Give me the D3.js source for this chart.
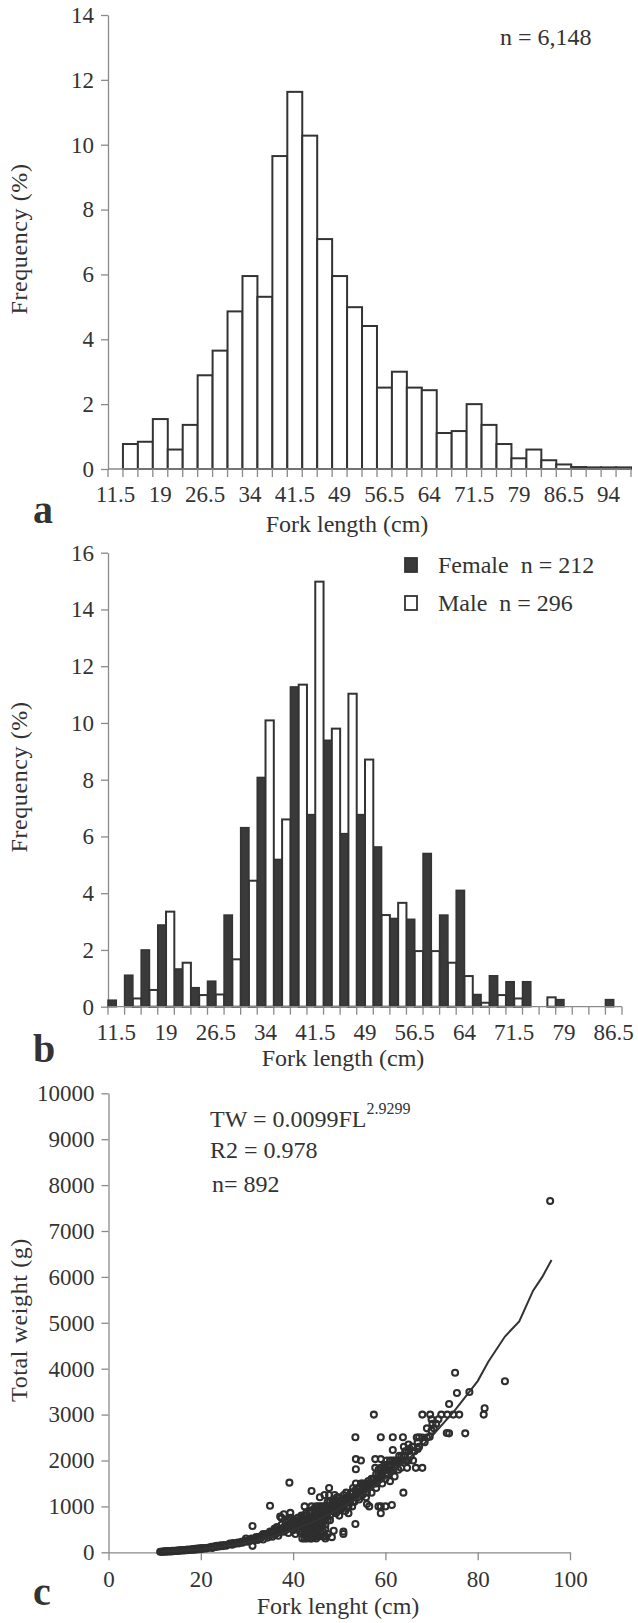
<!doctype html>
<html lang="en">
<head>
<meta charset="utf-8">
<title>Fork length frequency and length-weight</title>
<script src="https://d3js.org/d3.v7.min.js"></script>
<style>
  body { margin: 0; background: #fff; }
  svg text { font-family: 'Liberation Serif', 'Times New Roman', serif; fill: #333; }
  .axis path, .axis line { stroke: #8a8a8a; stroke-width: 1.3; }
</style>
</head>
<body>
<div id="chart"></div>
<script>
// ---- panel a : all fish, frequency by fork length class
var lengthsA = ["11.5","14","16.5","19","21.5","24","26.5","29","31.5","34","36.5","39","41.5","44","46.5","49","51.5","54","56.5","59","61.5","64","66.5","69","71.5","74","76.5","79","81.5","84","86.5","89","91.5","94","96.5"];
var freqA = [0,0.77,0.84,1.54,0.6,1.36,2.89,3.65,4.86,5.95,5.31,9.65,11.63,10.28,7.09,5.95,4.99,4.41,2.51,3.0,2.51,2.43,1.11,1.17,2.0,1.36,0.77,0.33,0.6,0.27,0.14,0.06,0.05,0.05,0.05];
var yTicksA = [0,2,4,6,8,10,12,14];

// ---- panel b : females and males
var lengthsB = ["11.5","14","16.5","19","21.5","24","26.5","29","31.5","34","36.5","39","41.5","44","46.5","49","51.5","54","56.5","59","61.5","64","66.5","69","71.5","74","76.5","79","81.5","84","86.5"];
var femaleB = [0.23,1.11,2.0,2.88,1.33,0.67,0.9,3.23,6.31,8.08,5.19,11.27,6.77,9.39,6.1,6.77,5.63,3.11,3.08,5.4,3.23,4.1,0.43,1.09,0.88,0.88,0,0.25,0,0,0.25];
var maleB = [0,0.29,0.59,3.35,1.55,0.41,0.43,1.67,4.44,10.09,6.6,11.35,14.98,9.8,11.03,8.71,3.23,3.66,1.96,1.96,1.55,1.08,0.14,0.41,0.29,0,0.33,0,0,0,0];
var yTicksB = [0,2,4,6,8,10,12,14,16];

// ---- panel c : fork length (cm) vs total weight (g)
var fishPts = [
  [11.2,12],[11.5,10],[11.8,18],[12,14],[12.3,22],[12.5,15],[12.8,25],[13,18],[13.3,28],[13.5,20],[13.8,30],[14,24],
  [14.3,35],[14.5,28],[14.8,40],[15,30],[15.3,45],[15.5,35],[15.8,50],[16,38],[16.3,48],[16.5,42],[16.8,55],[17,45],
  [17.3,60],[17.5,50],[17.8,62],[18,55],[18.3,70],[18.5,58],[18.8,75],[19,62],[19.3,80],[19.5,68],[19.8,85],[20,72],
  [20.3,90],[20.5,78],[21,95],[21.2,82],[21.5,100],[22,105],[22.3,120],[22.5,95],[23,130],[23.3,115],[23.5,140],[24,125],
  [24.3,150],[24.8,135],[25,160],[25.5,145],[26,170],[26.3,190],[26.8,165],[27,200],[27.5,185],[28,215],[28.3,195],[28.8,230],
  [29,210],[29.5,250],[30,230],[29.8,300],[30.3,260],[30.5,240],[31,280],[31.2,573],[31.2,140],[31.5,260],[32,300],[32.3,270],
  [32.5,330],[33,310],[33.3,360],[33.5,280],[34,350],[34.3,390],[34.5,320],[35,1015],[35,370],[35.2,420],[35.5,340],[35.8,450],
  [36,520],[36,380],[36.3,410],[36.5,470],[36.8,360],[37,430],[37.2,780],[37.5,750],[37.5,480],[37.8,520],[38,450],[38,830],
  [38.3,560],[38.5,490],[38.8,600],[39,420],[39.2,1517],[39.4,860],[39.5,550],[39.8,640],[40,480],[40,700],
  [40.3,560],[40.5,400],[40.8,620],[41,500],[41,750],[41.3,680],[41.5,450],[41.5,580],[41.8,800],[42,300],[42,520],[42,650],
  [42.3,720],[42.5,400],[42.5,600],[42.5,1000],[42.8,850],[43,350],[43,550],[43,700],[43.3,620],[43.5,450],[43.5,780],[43.5,900],
  [43.8,300],[43.8,680],[44,1335],[44,500],[44,850],[44,1000],[44.3,600],[44.3,750],[44.5,400],[44.5,950],[44.8,700],[44.8,550],
  [45,300],[45,820],[45,1000],[45.3,650],[45.5,750],[45.5,500],[45.5,900],[45.8,1200],[45.8,600],[46,350],[46,800],[46,1000],
  [46.3,700],[46.3,900],[46.5,450],[46.5,1000],[46.8,1250],[46.8,800],[47,600],[47,1000],[47,350],[47.3,900],[47.5,1100],[47.5,700],
  [47.8,1250],[47.8,1400],[48,800],[48,1000],[48.4,330],[48.3,950],[48.5,1100],[48.8,470],[48.8,900],[49,1250],[49,1050],[49.3,850],
  [49.5,1000],[49.5,1200],[49.8,950],[50,1100],[50,800],
  [50.3,1000],[50.5,1150],[50.9,450],[50.9,400],[51,1050],[51,1250],[51.3,900],[51.5,1100],[51.5,1300],[51.8,1000],[52,1200],[52,850],
  [52.3,1100],[52.5,1300],[52.8,1000],[53,1200],[53,1400],[53.5,617],[53.5,2505],[53.6,2030],[53.6,1810],[53.6,1500],[53.3,1100],[53.8,1250],
  [54,1300],[54.3,1150],[54.7,2000],[54.7,1500],[54.5,1400],[55,1250],[55,1450],[55.3,1350],[55.5,1500],[55.8,1200],[56,1400],[56,1050],
  [56.5,1000],[56.3,1550],[56.8,1450],[57,1300],[57,1600],[57.5,3000],[57.5,1500],[57.8,2030],[57.8,1840],[58,1700],[58,1400],[58.3,1550],
  [58.5,1800],[58.5,1000],[58.8,1650],[59,2505],[59,2030],[59,1840],[59,1000],[59,850],[59.3,1500],[59.5,1750],[59.8,1900],[60,1000],
  [60,1600],[60,1840],[60.3,2000],[60.5,1700],[60.8,1850],[61,2000],[61,1550],[61.4,1030],[61.6,2505],[61.6,2229],[61.6,1800],[62,2000],
  [62,1650],[62.3,1900],[62.5,2000],[62.8,1800],[63,2000],[63.4,1840],[63.8,2505],[63.9,1300],[63.5,2100],[64,2000],[64,2300],[64.3,2200],
  [64.7,1840],[64.5,2000],[65,2350],[65,2000],[65.3,2250],[65.5,2100],[65.8,2300],[66,2000],[66.3,2200],[66.6,1840],[66.8,2500],[67,2250],
  [67.3,2505],[67.3,2300],[68,1840],[68,3000],[68.5,2400],[69,2500],[69.6,2519],[69.7,3000],[70,2900],[70.2,2800],[70.5,2700],[70,2650],
  [71,2800],[71.5,2900],[72.1,3000],[73.4,3000],[73.8,3231],[73.8,2592],[73.3,2600],[74.7,3000],[75.1,3913],[75.5,3470],[76,3000],[77.3,2592],
  [78.2,3492],[81.3,3000],[81.5,3137],[85.9,3725],[95.7,7653],
  // dense core of the cloud
  [30,250],[31,300],[32,330],[33,350],[33.5,400],[34,400],[35,450],[36,480],[36.5,550],[37,500],[37.5,600],[38,550],[38.5,650],[39,600],
  [39,700],[39.5,750],[40,600],[40.5,700],[40.5,550],[41,620],[41.5,700],[42,750],[42,450],[42.5,800],[42.5,700],[42.5,300],[43,800],
  [43,600],[43,450],[43,300],[43.5,650],[43.5,550],[44,700],[44,400],[44,900],[44,300],[44.5,800],[44.5,650],[44.5,500],[44.5,330],
  [45,700],[45,900],[45,550],[45,400],[45,350],[45.5,800],[45.5,650],[45.5,1000],[45.5,350],[46,900],[46,700],[46,550],[46,450],
  [46.5,800],[46.5,900],[46.5,650],[46.5,350],[47,800],[47,900],[47,700],[47,500],[47,300],[47.5,850],[47.5,1000],[47.5,900],[47.5,400],
  [48,900],[48,1100],[48,700],[48.5,1000],[48.5,950],[49,900],[49,1000],[49,1150],[49.5,1100],[49.5,900],[50,950],[50,1000],[50,1200],
  [50.5,1050],[50.5,950],[51,1150],[51,1000],[51.5,1200],[52,1100],[52,1000],[52.5,1150],[52.5,1200],[53,1100],[53,1300],[53.5,1250],
  [53.5,1350],[54,1200],[54,1400],[54.5,1300],[55,1350],[55,1500],[55.5,1400],[56,1500],[56,1300],[56.5,1450],[57,1500],[57.5,1600],
  [58,1500],[58,1600],[58.5,1700],[59,1700],[59,1600],[59.5,1800],[60,1700],[60,1900],[60.5,1800],[61,1800],[61,1900],[61.5,2000],
  [62,1850],[62.5,1950],[63,2100],[63.5,2000],[64,2100],[64.5,2200],[65,2200],[66,2300],[67,2400],[68,2500],[69,2700]
];
var fitFL = [11.5,15,20,25,30,35,40,45,50,55,60,65,70,75,80,82.3,85.9,89,92,94,96];
var fitTW = [13,28,64,123,211,331,489,691,941,1243,1606,2031,2524,3088,3730,4150,4700,5030,5700,6000,6370];
var xTicksC = [0,20,40,60,80,100];
var yTicksC = [0,1000,2000,3000,4000,5000,6000,7000,8000,9000,10000];

var W = 638, H = 1623;
var svg = d3.select('#chart').append('svg')
    .attr('width', W).attr('height', H)
    .style('background', '#fff');

var tickFont = 23, titleFont = 24;

function styleAxis(g) {
  g.attr('class', 'axis');
  g.selectAll('text').style('font-size', tickFont + 'px').style('font-family', "'Liberation Serif', serif").attr('fill', '#333');
}

// category x axis: tick at every class boundary, label every 3rd class
function bandAxis(g, x, y0, labels) {
  var step = x.step(), r = x.range();
  var bounds = d3.range(labels.length + 1).map(function(i) { return r[0] + i * step; });
  g.append('line').attr('x1', r[0]).attr('x2', r[1]).attr('y1', y0).attr('y2', y0)
    .attr('stroke', '#8a8a8a').attr('stroke-width', 1.3);
  g.selectAll('line.tk').data(bounds).enter().append('line').attr('class', 'tk')
    .attr('x1', function(d) { return d; }).attr('x2', function(d) { return d; })
    .attr('y1', y0).attr('y2', y0 + 8)
    .attr('stroke', '#8a8a8a').attr('stroke-width', 1.3);
  g.selectAll('text.lb').data(labels.filter(function(d, i) { return i % 3 === 0; }))
    .enter().append('text').attr('class', 'lb')
    .attr('x', function(d) { return x(d) + step / 2; })
    .attr('y', y0 + 33)
    .attr('text-anchor', 'middle')
    .style('font-size', tickFont + 'px')
    .text(function(d) { return d; });
}

function yTitle(txt, cy) {
  svg.append('text')
    .attr('transform', 'translate(27,' + cy + ') rotate(-90)')
    .attr('text-anchor', 'middle')
    .style('font-size', titleFont + 'px')
    .style('letter-spacing', '0.6px')
    .text(txt);
}

function panelLetter(txt, y) {
  svg.append('text').attr('x', 33).attr('y', y)
    .style('font-size', '40px').style('font-weight', 'bold')
    .text(txt);
}

// ================= panel a
var xA = d3.scaleBand().domain(lengthsA).range([108, 631]).padding(0);
var yA = d3.scaleLinear().domain([0, 14]).range([469, 15]);

svg.append('g').attr('transform', 'translate(108,0)')
  .call(d3.axisLeft(yA).tickValues(yTicksA).tickSize(7).tickSizeOuter(0).tickPadding(7).tickFormat(d3.format('d')))
  .call(styleAxis);

var barsA = freqA.map(function(v, i) { return {len: lengthsA[i], v: v}; })
  .filter(function(d) { return d.v > 0; });
svg.append('g').selectAll('rect').data(barsA).enter().append('rect')
  .attr('x', function(d) { return xA(d.len); })
  .attr('y', function(d) { return yA(d.v); })
  .attr('width', xA.bandwidth())
  .attr('height', function(d) { return yA(0) - yA(d.v); })
  .attr('fill', '#fff')
  .attr('stroke', '#333')
  .attr('stroke-width', 2);

bandAxis(svg.append('g'), xA, 469, lengthsA);

svg.append('text').attr('x', 500).attr('y', 45).style('font-size', '24px').text('n = 6,148');
svg.append('text').attr('x', 347).attr('y', 532).attr('text-anchor', 'middle')
  .style('font-size', titleFont + 'px').text('Fork length (cm)');
yTitle('Frequency (%)', 239);
panelLetter('a', 523);

// ================= panel b
var xB = d3.scaleBand().domain(lengthsB).range([108, 622]).padding(0);
var yB = d3.scaleLinear().domain([0, 16]).range([1006.7, 552.7]);
var half = xB.bandwidth() / 2;

svg.append('g').attr('transform', 'translate(108,0)')
  .call(d3.axisLeft(yB).tickValues(yTicksB).tickSize(7).tickSizeOuter(0).tickPadding(7).tickFormat(d3.format('d')))
  .call(styleAxis);

var femBars = femaleB.map(function(v, i) { return {len: lengthsB[i], v: v}; })
  .filter(function(d) { return d.v > 0; });
var maleBars = maleB.map(function(v, i) { return {len: lengthsB[i], v: v}; })
  .filter(function(d) { return d.v > 0; });

svg.append('g').selectAll('rect').data(femBars).enter().append('rect')
  .attr('x', function(d) { return xB(d.len); })
  .attr('y', function(d) { return yB(d.v); })
  .attr('width', half)
  .attr('height', function(d) { return yB(0) - yB(d.v); })
  .attr('fill', '#3a3a3a')
  .attr('stroke', '#333').attr('stroke-width', 1.5);

svg.append('g').selectAll('rect').data(maleBars).enter().append('rect')
  .attr('x', function(d) { return xB(d.len) + half; })
  .attr('y', function(d) { return yB(d.v); })
  .attr('width', half)
  .attr('height', function(d) { return yB(0) - yB(d.v); })
  .attr('fill', '#fff')
  .attr('stroke', '#333').attr('stroke-width', 2);

bandAxis(svg.append('g'), xB, 1006.7, lengthsB);

// legend
var legB = [{label: 'Female  n = 212', fill: '#3a3a3a', y: 565}, {label: 'Male  n = 296', fill: '#fff', y: 603}];
var lg = svg.append('g').selectAll('g').data(legB).enter().append('g');
lg.append('rect').attr('x', 405).attr('y', function(d) { return d.y - 7; })
  .attr('width', 12).attr('height', 14)
  .attr('fill', function(d) { return d.fill; }).attr('stroke', '#333').attr('stroke-width', 1.8);
lg.append('text').attr('x', 438).attr('y', function(d) { return d.y + 8; })
  .style('font-size', '24px').style('white-space', 'pre').attr('xml:space', 'preserve')
  .text(function(d) { return d.label; });

svg.append('text').attr('x', 343).attr('y', 1066).attr('text-anchor', 'middle')
  .style('font-size', titleFont + 'px').text('Fork length (cm)');
yTitle('Frequency (%)', 777);
panelLetter('b', 1062);

// ================= panel c
var xC = d3.scaleLinear().domain([0, 100]).range([108.5, 570]);
var yC = d3.scaleLinear().domain([0, 10000]).range([1552.3, 1093.3]);

svg.append('g').attr('transform', 'translate(108.5,0)')
  .call(d3.axisLeft(yC).tickValues(yTicksC).tickSize(7).tickSizeOuter(0).tickPadding(7).tickFormat(d3.format('d')))
  .call(styleAxis);
svg.append('g').attr('transform', 'translate(0,1552.3)')
  .call(d3.axisBottom(xC).tickValues(xTicksC).tickSize(8).tickSizeOuter(0).tickPadding(10))
  .call(styleAxis);

svg.append('g').selectAll('circle').data(fishPts).enter().append('circle')
  .attr('cx', function(d) { return xC(d[0]); })
  .attr('cy', function(d) { return yC(d[1]); })
  .attr('r', 3)
  .attr('fill', 'none')
  .attr('stroke', '#2e2e2e')
  .attr('stroke-width', 2.1);

var fitLine = d3.line()
  .x(function(d, i) { return xC(fitFL[i]); })
  .y(function(d) { return yC(d); });
svg.append('path').datum(fitTW).attr('d', fitLine)
  .attr('fill', 'none').attr('stroke', '#333').attr('stroke-width', 2);

var eq = svg.append('text').attr('x', 210).attr('y', 1127).style('font-size', '24px');
eq.append('tspan').text('TW = 0.0099FL');
eq.append('tspan').attr('dy', -13).style('font-size', '16px').text('2.9299');
svg.append('text').attr('x', 210).attr('y', 1158).style('font-size', '24px').text('R2 = 0.978');
svg.append('text').attr('x', 212).attr('y', 1192).style('font-size', '24px').text('n= 892');

svg.append('text').attr('x', 338).attr('y', 1614).attr('text-anchor', 'middle')
  .style('font-size', titleFont + 'px').text('Fork lenght (cm)');
yTitle('Total weight (g)', 1320);
panelLetter('c', 1605);
</script>
</body>
</html>
